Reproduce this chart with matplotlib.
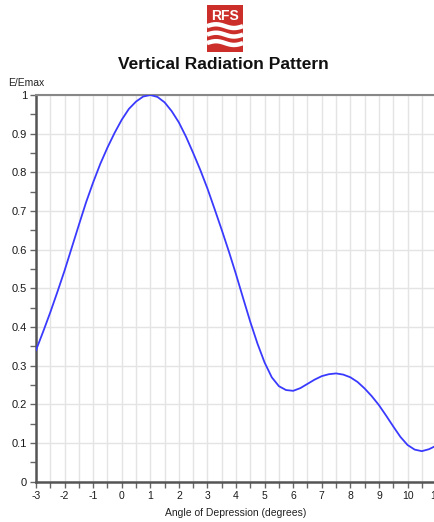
import numpy as np
import matplotlib
matplotlib.use('Agg')
import matplotlib.pyplot as plt
from matplotlib.ticker import MultipleLocator, FuncFormatter

plt.rcParams['font.family'] = ['Liberation Sans', 'DejaVu Sans']

# Du lieu doc tu hinh (goc nghieng, E/Emax)
angle = [-3.00, -2.75, -2.50, -2.25, -2.00, -1.75, -1.50, -1.25, -1.00, -0.75,
         -0.50, -0.25, 0.00, 0.25, 0.50, 0.75, 1.00, 1.25, 1.50, 1.75,
         2.00, 2.25, 2.50, 2.75, 3.00, 3.25, 3.50, 3.75, 4.00, 4.25,
         4.50, 4.75, 5.00, 5.25, 5.50, 5.75, 6.00, 6.25, 6.50, 6.75,
         7.00, 7.25, 7.50, 7.75, 8.00, 8.25, 8.50, 8.75, 9.00, 9.25,
         9.50, 9.75, 10.00, 10.25, 10.50, 10.75, 11.00]
e_emax = [0.340, 0.388, 0.438, 0.491, 0.546, 0.605, 0.664, 0.722, 0.774, 0.822,
          0.864, 0.902, 0.936, 0.964, 0.983, 0.996, 1.000, 0.995, 0.981, 0.958,
          0.929, 0.892, 0.850, 0.806, 0.758, 0.705, 0.651, 0.595, 0.536, 0.474,
          0.413, 0.357, 0.308, 0.270, 0.247, 0.237, 0.235, 0.242, 0.253, 0.264,
          0.273, 0.278, 0.280, 0.277, 0.270, 0.258, 0.241, 0.221, 0.198, 0.171,
          0.143, 0.116, 0.095, 0.083, 0.079, 0.084, 0.093]

title = 'Vertical Radiation Pattern'
x_label = 'Angle of Depression (degrees)'
y_label = 'E/Emax'

W, H = 434, 522
fig = plt.figure(figsize=(W / 100, H / 100), dpi=100)
fig.patch.set_facecolor('white')

# Truc chinh (ben phai bi cat o x=11)
ax = fig.add_axes([36 / W, 1 - 481.7 / H, 400.1 / W, 386.7 / H])
ax.plot(angle, e_emax, color='#3a3aff', lw=1.3, zorder=3)
ax.set_xlim(-3, 11)
ax.set_ylim(0, 1)

ax.xaxis.set_major_locator(MultipleLocator(1))
ax.xaxis.set_minor_locator(MultipleLocator(0.5))
ax.yaxis.set_major_locator(MultipleLocator(0.1))
ax.yaxis.set_minor_locator(MultipleLocator(0.05))
ax.yaxis.set_major_formatter(FuncFormatter(lambda v, p: '%g' % round(v, 2)))
ax.xaxis.set_major_formatter(FuncFormatter(lambda v, p: '%g' % v))

ax.grid(which='major', axis='y', color='#e4e4e4', lw=1.0, zorder=0)
ax.grid(which='both', axis='x', color='#e4e4e4', lw=1.0, zorder=0)

ax.tick_params(which='both', direction='out', length=4, width=1, color='#666666',
               labelsize=7.5, labelcolor='#1a1a1a', pad=2.5)
ax.tick_params(axis='y', which='major', labelsize=8)

for side in ['left', 'bottom']:
    ax.spines[side].set_color('#555555')
    ax.spines[side].set_linewidth(1.8)
ax.spines['top'].set_color('#888888')
ax.spines['top'].set_linewidth(1.5)
ax.spines['right'].set_visible(False)

ax.set_xlabel(x_label, fontsize=7.5, color='#222222', labelpad=5)
fig.text(8 / W, 1 - 83 / H, y_label, fontsize=7.5, color='#222222', va='center')

fig.text(223 / W, 1 - 65 / H, title, fontsize=12.5, fontweight='bold', ha='center',
         va='center', color='#111111')

# Logo RFS
logo = fig.add_axes([207 / W, 1 - 52 / H, 36 / W, 47 / H])
logo.set_xlim(0, 1)
logo.set_ylim(0, 1)
logo.axis('off')
logo.add_patch(plt.Rectangle((0, 0), 1, 1, color='#cc2f2a'))
logo.text(0.5, 0.77, 'RFS', color='white', fontsize=10, fontweight='bold',
          ha='center', va='center')
t = np.linspace(0, 1, 50)
for y0 in [0.55, 0.37, 0.19]:
    logo.plot(t, y0 + 0.04 * np.sin(2 * np.pi * t), color='white', lw=3.2,
              solid_capstyle='butt')

fig.savefig('out.png', dpi=100)
